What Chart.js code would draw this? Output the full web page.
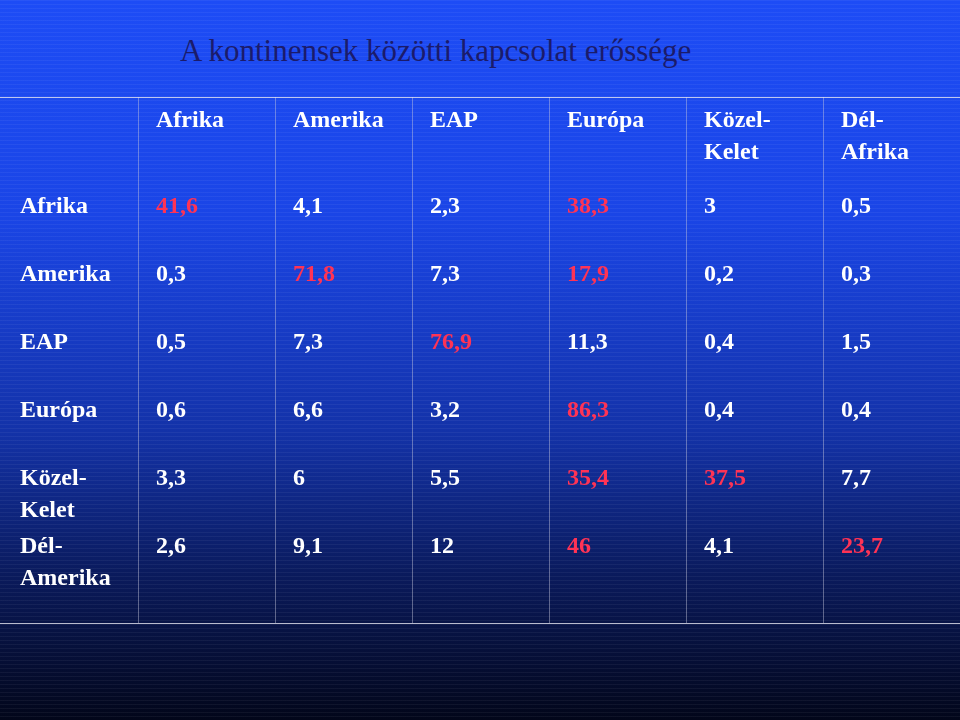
<!DOCTYPE html>
<html lang="hu">
<head>
<meta charset="UTF-8">
<title>A kontinensek közötti kapcsolat erőssége</title>
<style>
  body { margin: 0; width: 960px; height: 720px; overflow: hidden;
    background:
      repeating-linear-gradient(180deg, rgba(255,255,255,0.05) 0 1px, rgba(0,0,0,0) 1px 4px),
      linear-gradient(180deg, #1d4cf6 0%, #1a45e6 30%, #1332a8 60%, #0a1a5c 80%, #02061a 100%);
    font-family: "Liberation Serif", serif; }
  #wrap { position: absolute; left: 0; top: 0; width: 960px; height: 720px; }
  h1 { position: absolute; left: 180px; top: 33px; margin: 0; font-weight: normal;
    font-size: 31px; color: #1b1b6b; }
</style>
</head>
<body>
<h1>A kontinensek közötti kapcsolat erőssége</h1>
<div id="wrap"><canvas id="myChart" width="960" height="720"></canvas></div>
<script src="https://cdn.jsdelivr.net/npm/chart.js"></script>
<script>
  // oszlopok és sorok
  const v_cols = [["Afrika"], ["Amerika"], ["EAP"], ["Európa"], ["Közel-", "Kelet"], ["Dél-", "Afrika"]];
  const v_rows = [["Afrika"], ["Amerika"], ["EAP"], ["Európa"], ["Közel-", "Kelet"], ["Dél-", "Amerika"]];
  const v_values = [
    ["41,6", "4,1", "2,3", "38,3", "3", "0,5"],
    ["0,3", "71,8", "7,3", "17,9", "0,2", "0,3"],
    ["0,5", "7,3", "76,9", "11,3", "0,4", "1,5"],
    ["0,6", "6,6", "3,2", "86,3", "0,4", "0,4"],
    ["3,3", "6", "5,5", "35,4", "37,5", "7,7"],
    ["2,6", "9,1", "12", "46", "4,1", "23,7"]
  ];
  // piros cellák
  const v_red = [
    [1, 0, 0, 1, 0, 0],
    [0, 1, 0, 1, 0, 0],
    [0, 0, 1, 0, 0, 0],
    [0, 0, 0, 1, 0, 0],
    [0, 0, 0, 1, 1, 0],
    [0, 0, 0, 1, 0, 1]
  ];

  const v_xLabels = v_cols.map(c => c.join(" "));
  const v_yLabels = v_rows.map(r => r.join(" "));
  let v_points = [];
  for (let i = 0; i < v_rows.length; i++) {
    for (let k = 0; k < v_cols.length; k++) {
      v_points.push({ x: v_xLabels[k], y: v_yLabels[i], v: v_values[i][k], red: v_red[i][k] });
    }
  }

  const tablePlugin = {
    id: "table",
    afterDatasetsDraw(chart) {
      const c = chart.ctx, xs = chart.scales.x, ys = chart.scales.y;
      const colW = xs.getPixelForValue(1) - xs.getPixelForValue(0);
      const rowH = ys.getPixelForValue(1) - ys.getPixelForValue(0);
      const bottom = 623;
      c.save();
      // rácsvonalak
      c.strokeStyle = "rgba(200,200,220,0.45)";
      c.lineWidth = 1;
      for (let k = 0; k < v_cols.length; k++) {
        const x = Math.round(xs.getPixelForValue(k) - colW / 2) + 0.5;
        c.beginPath(); c.moveTo(x, 97); c.lineTo(x, bottom); c.stroke();
      }
      c.strokeStyle = "rgba(230,230,240,0.8)";
      c.beginPath(); c.moveTo(0, 97.5); c.lineTo(960, 97.5); c.stroke();
      c.beginPath(); c.moveTo(0, bottom + 0.5); c.lineTo(960, bottom + 0.5); c.stroke();

      c.font = "bold 24px 'Liberation Serif'";
      c.textBaseline = "middle";
      c.textAlign = "left";
      // fejléc
      c.fillStyle = "#ffffff";
      v_cols.forEach((lines, k) => {
        const x = xs.getPixelForValue(k) - colW / 2 + 18;
        lines.forEach((t, j) => c.fillText(t, x, 121 + j * 32));
      });
      // sorfejek
      v_rows.forEach((lines, i) => {
        const y = ys.getPixelForValue(i) - rowH / 2 + 32;
        lines.forEach((t, j) => c.fillText(t, 20, y + j * 32));
      });
      // értékek
      chart.data.datasets[0].data.forEach(p => {
        const x = xs.getPixelForValue(v_xLabels.indexOf(p.x)) - colW / 2 + 18;
        const y = ys.getPixelForValue(v_yLabels.indexOf(p.y)) - rowH / 2 + 32;
        c.fillStyle = p.red ? "#ff3355" : "#ffffff";
        c.fillText(p.v, x, y);
      });
      c.restore();
    }
  };

  new Chart(document.getElementById("myChart"), {
    type: "scatter",
    data: { datasets: [{ data: v_points, pointRadius: 0 }] },
    options: {
      responsive: false,
      animation: false,
      layout: { padding: { left: 138, top: 175, bottom: 137, right: 0 } },
      plugins: { legend: { display: false }, tooltip: { enabled: false } },
      scales: {
        x: { type: "category", labels: v_xLabels, offset: true, display: false },
        y: { type: "category", labels: v_yLabels, offset: true, display: false }
      }
    },
    plugins: [tablePlugin]
  });
</script>
</body>
</html>
